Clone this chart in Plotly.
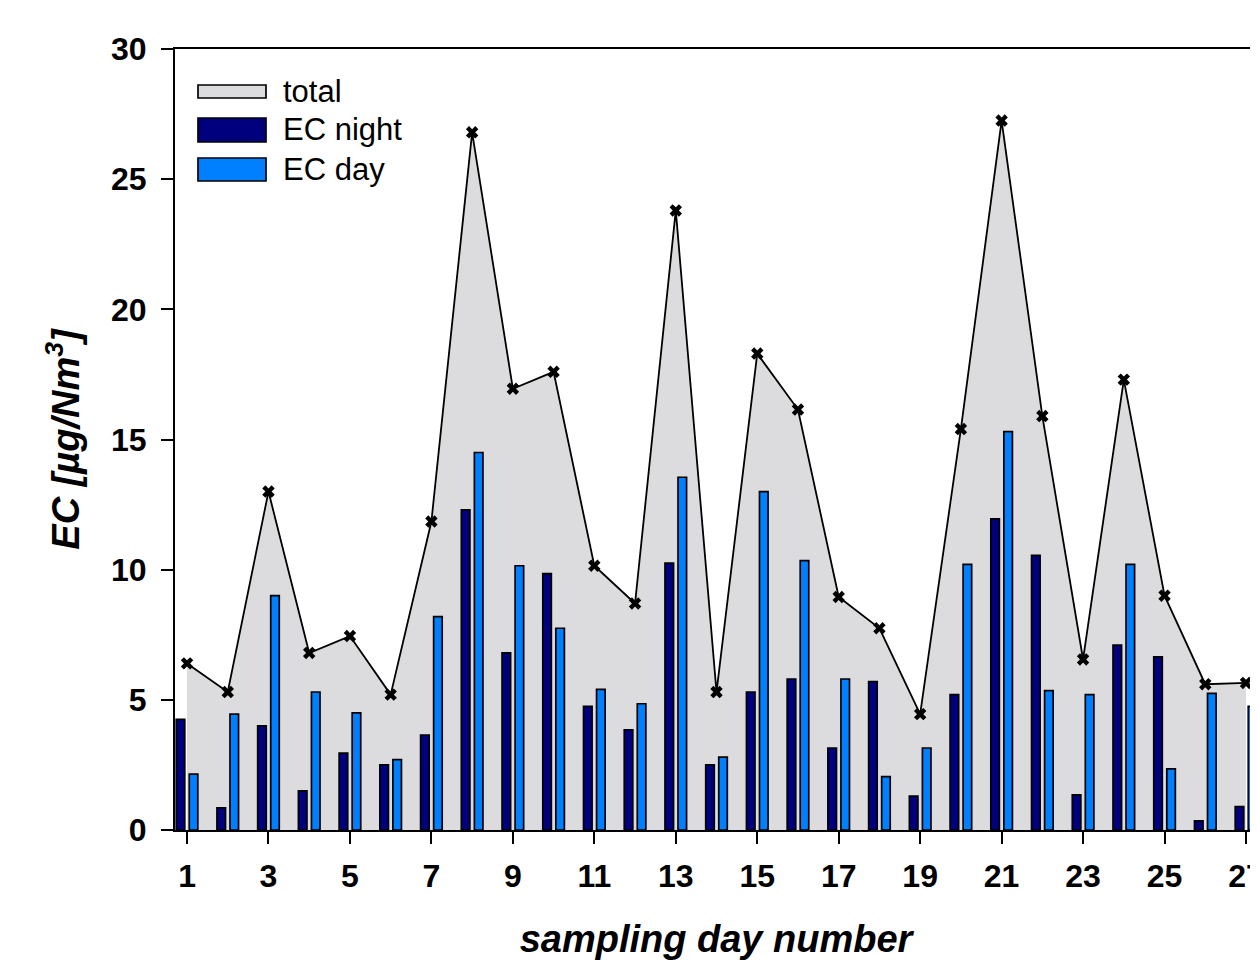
import plotly.graph_objects as go

days = list(range(1, 28))
ec_night = [4.25, 0.85, 4.0, 1.5, 2.95, 2.5, 3.65, 12.3, 6.8, 9.85, 4.75, 3.85, 10.25, 2.5,
            5.3, 5.8, 3.15, 5.7, 1.3, 5.2, 11.95, 10.55, 1.35, 7.1, 6.65, 0.35, 0.9]
ec_day = [2.15, 4.45, 9.0, 5.3, 4.5, 2.7, 8.2, 14.5, 10.15, 7.75, 5.4, 4.85, 13.55, 2.8,
          13.0, 10.35, 5.8, 2.05, 3.15, 10.2, 15.3, 5.35, 5.2, 10.2, 2.35, 5.25, 4.75]
total = [n + d for n, d in zip(ec_night, ec_day)]
x_ticks = list(range(1, 28, 2))
y_ticks = [0, 5, 10, 15, 20, 25, 30]

GREY = "#DCDCDE"
NAVY = "#00007F"
BLUE = "#0080FF"
FONT = "Liberation Sans, Arial, sans-serif"
X_RANGE = [0.705, 27.27]
Y_RANGE = [0, 30]

fig = go.Figure()
fig.add_trace(go.Scatter(
    x=days, y=total, mode="lines+markers", fill="tozeroy", fillcolor=GREY,
    line=dict(color="black", width=1.8),
    marker=dict(symbol="x", size=11, color="black"), name="total", showlegend=False,
    xaxis="x", yaxis="y"))
fig.add_trace(go.Bar(
    x=days, y=ec_night, offset=-0.265, width=0.21, name="EC night",
    marker=dict(color=NAVY, line=dict(color="black", width=1.7)), showlegend=False,
    xaxis="x2", yaxis="y2"))
fig.add_trace(go.Bar(
    x=days, y=ec_day, offset=0.055, width=0.21, name="EC day",
    marker=dict(color=BLUE, line=dict(color="black", width=1.7)), showlegend=False,
    xaxis="x2", yaxis="y2"))

# page offset of the figure (body margin)
OFF = 8
L, R, T, B = 175, 1257, 49, 830   # plot area in page pixels
W, H = 1258 - OFF, 970 - OFF
def px(xp):
    return (xp - L) / (R - L)
def py(yp):
    return (B - yp) / (B - T)

legend_items = [("total", GREY, 85, 98), ("EC night", NAVY, 118, 142), ("EC day", BLUE, 158, 181)]
for label, col, y0, y1 in legend_items:
    fig.add_shape(type="rect", xref="paper", yref="paper",
                  x0=px(198), x1=px(266), y0=py(y1), y1=py(y0),
                  fillcolor=col, line=dict(color="black", width=1.7))
    fig.add_annotation(xref="paper", yref="paper", x=px(281), y=py((y0 + y1) / 2),
                       text=label, showarrow=False, xanchor="left", yanchor="middle",
                       font=dict(family=FONT, size=31, color="black"))

fig.update_layout(
    width=W, height=H,
    margin=dict(l=L - OFF, r=1258 - R, t=T - OFF, b=970 - B, autoexpand=False),
    plot_bgcolor="white", paper_bgcolor="white", barmode="overlay",
    font=dict(family=FONT, color="black"),
    xaxis=dict(range=X_RANGE, tickvals=x_ticks, ticktext=[str(v) for v in x_ticks],
               ticks="outside", ticklen=12, tickwidth=2, tickcolor="black",
               showline=True, linecolor="black", linewidth=2, mirror=True,
               showgrid=False, zeroline=False, ticklabelstandoff=5,
               ticklabeloverflow="allow", automargin=False,
               tickfont=dict(family=FONT, size=32, weight="bold"),
               title=dict(text="<b><i>sampling day number</i></b>", standoff=32,
                          font=dict(family=FONT, size=38))),
    yaxis=dict(range=Y_RANGE, tickvals=y_ticks,
               ticks="outside", ticklen=12, tickwidth=2, tickcolor="black",
               showline=True, linecolor="black", linewidth=2, mirror=True,
               showgrid=False, zeroline=False, ticklabelstandoff=8, automargin=False,
               tickfont=dict(family=FONT, size=32, weight="bold"),
               title=dict(text="<b><i>EC [µg/Nm<sup>3</sup>]</i></b>", standoff=20,
                          font=dict(family=FONT, size=38))),
    xaxis2=dict(range=X_RANGE, overlaying="x", visible=False, matches="x"),
    yaxis2=dict(range=Y_RANGE, overlaying="y", visible=False, matches="y"),
)

fig.write_html("out.html")
